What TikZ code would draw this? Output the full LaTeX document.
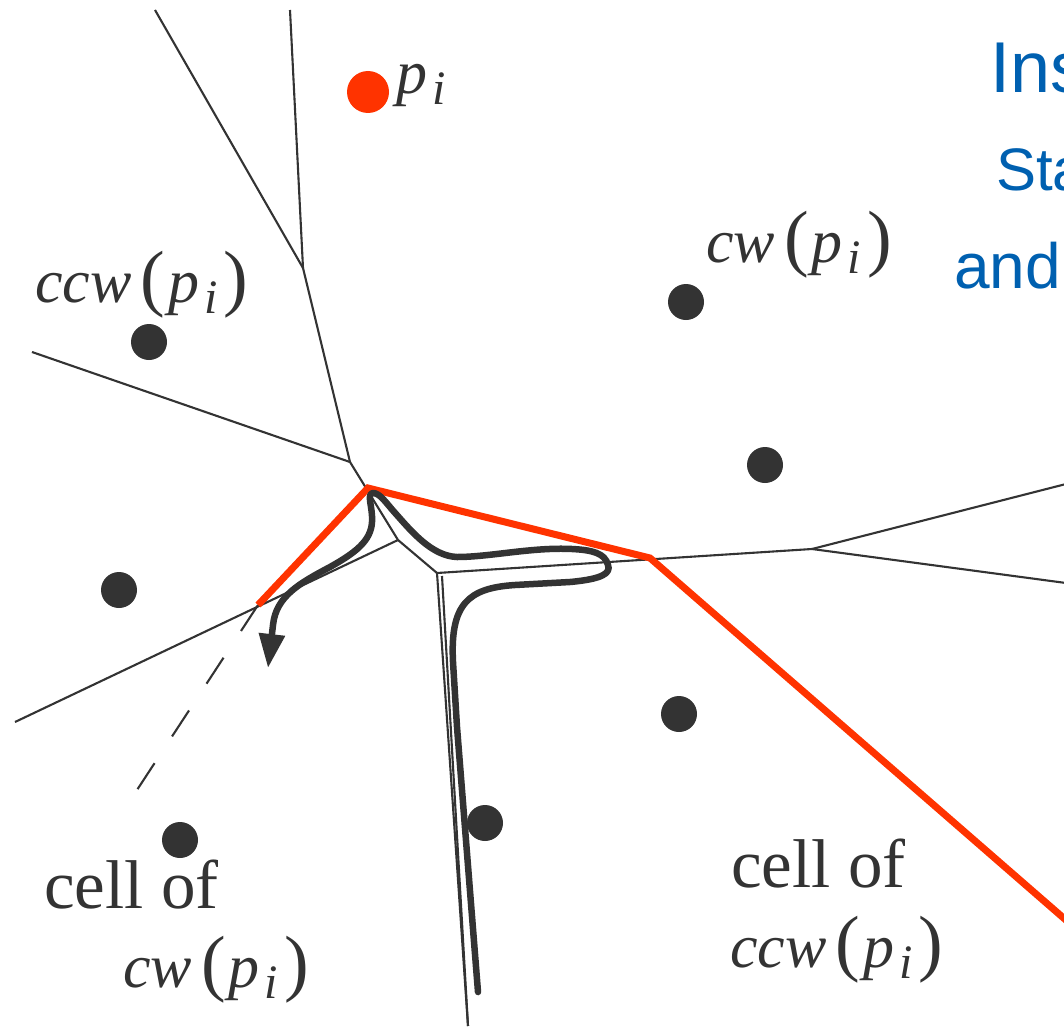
\documentclass[tikz,border=0pt]{standalone}
\usepackage{fontspec}
\setmainfont{Liberation Serif}
\newfontfamily\bluefont{Liberation Sans}
\usetikzlibrary{arrows.meta}
\definecolor{vred}{RGB}{255,51,0}
\definecolor{vgray}{RGB}{51,51,51}
\definecolor{vblue}{RGB}{0,96,176}
\newcommand{\pil}{\textit{p}\kern5pt\raisebox{-11pt}{\fontsize{48}{48}\selectfont\itshape i}}
\newcommand{\lpar}{{\fontsize{74}{74}\selectfont(}}
\newcommand{\rpar}{{\fontsize{74}{74}\selectfont)}}
\newcommand{\fnlab}[1]{\textit{#1}\kern9pt\lpar\kern3pt\pil\kern6pt\rpar}
\begin{document}
\begin{tikzpicture}[x=1pt,y=-1pt,
  edge/.style={draw=vgray,line width=2.1pt},
  redline/.style={draw=vred,line width=7pt,line join=miter},
  walk/.style={draw=vgray,line width=6.5pt,line cap=round,line join=round},
  site/.style={circle,fill=vgray,inner sep=0pt,minimum size=36pt},
  redsite/.style={circle,fill=vred,inner sep=0pt,minimum size=42pt},
  lab/.style={inner sep=0pt,anchor=base west,text=vgray,font=\fontsize{62}{70}\selectfont},
  cell/.style={inner sep=0pt,anchor=base west,text=vgray,font=\fontsize{69}{75}\selectfont},
  bluetxt/.style={inner sep=0pt,anchor=base west,text=vblue}]
\useasboundingbox (0,0) rectangle (1064,1030);
\clip (0,0) rectangle (1064,1030);

% Voronoi vertices and edge ends
\coordinate (e1) at (155,10);
\coordinate (e2) at (290,10);
\coordinate (v1) at (303,268);
\coordinate (e3) at (32,352);
\coordinate (v2) at (350,462);
\coordinate (v3) at (398,540);
\coordinate (e4) at (15,722);
\coordinate (v4) at (437,573);
\coordinate (v4b) at (442,576);
\coordinate (e5) at (468,1026);
\coordinate (v5) at (812,549);
\coordinate (e6) at (1066,484);
\coordinate (e7) at (1066,583);

\draw[edge] (e1) -- (v1);
\draw[edge] (e2) -- (v1);
\draw[edge] (v1) -- (v2);
\draw[edge] (e3) -- (v2);
\draw[edge] (v2) -- (v3);
\draw[edge] (e4) -- (v3);
\draw[edge] (v3) -- (v4);
\draw[edge] (v4) -- (e5);
\draw[edge] (v4b) -- (e5);
\draw[edge] (v4) -- (v5);
\draw[edge] (v5) -- (e6);
\draw[edge] (v5) -- (e7);

% red polygon boundary
\coordinate (r0) at (258,605);
\coordinate (r1) at (368,488);
\coordinate (r2) at (650,558);
\coordinate (r3) at (1090,941);
\coordinate (d1) at (137,790);
\draw[edge,dash pattern=on 31pt off 32pt] (r0) -- (d1);
\draw[redline] (r0) -- (r1) -- (r2) -- (r3);

% walk around the cells
\coordinate (w0) at (478,992);
\coordinate (wt) at (268,668);
\draw[walk,-{Triangle[length=34pt,width=25pt]}] (w0) -- (457,727) -- (453,662)
  .. controls (450,604) and (468,588) .. (515,585)
  -- (570,582)
  .. controls (603,579) and (611,573) .. (608,565)
  .. controls (605,553) and (592,550) .. (572,549)
  .. controls (532,547) and (490,557) .. (457,557)
  .. controls (432,556) and (412,532) .. (396,514)
  .. controls (386,503) and (380,493) .. (373,493)
  .. controls (366,494) and (373,507) .. (372,522)
  .. controls (371,541) and (355,553) .. (330,567)
  .. controls (300,583) and (276,596) .. (273,625)
  -- (wt);

% sites
\node[redsite] (pi) at (368,92) {};
\node[site] (s1) at (149,342) {};
\node[site] (s2) at (686,302) {};
\node[site] (s3) at (765,465) {};
\node[site] (s4) at (119,590) {};
\node[site] (s5) at (679,714) {};
\node[site] (s6) at (485,823) {};
\node[site] (s7) at (180,840) {};

% labels
\node[lab] (lpi) at (396,94) {\pil};
\node[lab] (lccw) at (35,302) {\fnlab{ccw}};
\node[lab] (lcw) at (706,262) {\fnlab{cw}};
\node[cell] (lcell1) at (44,908) {cell of};
\node[lab] (lcw2) at (123,987) {\fnlab{cw}};
\node[cell] (lcell2) at (731,887) {cell of};
\node[lab] (lccw2) at (730,967) {\fnlab{ccw}};

% blue text, cut off at the right edge as in the reference
\node[bluetxt,font=\bluefont\fontsize{72}{80}\selectfont] (b1) at (990,93) {Ins};
\node[bluetxt,font=\bluefont\fontsize{60}{70}\selectfont] (b2) at (996,190) {Sta};
\node[bluetxt,font=\bluefont\fontsize{64}{70}\selectfont] (b3) at (954,288) {and};
\end{tikzpicture}
\end{document}
